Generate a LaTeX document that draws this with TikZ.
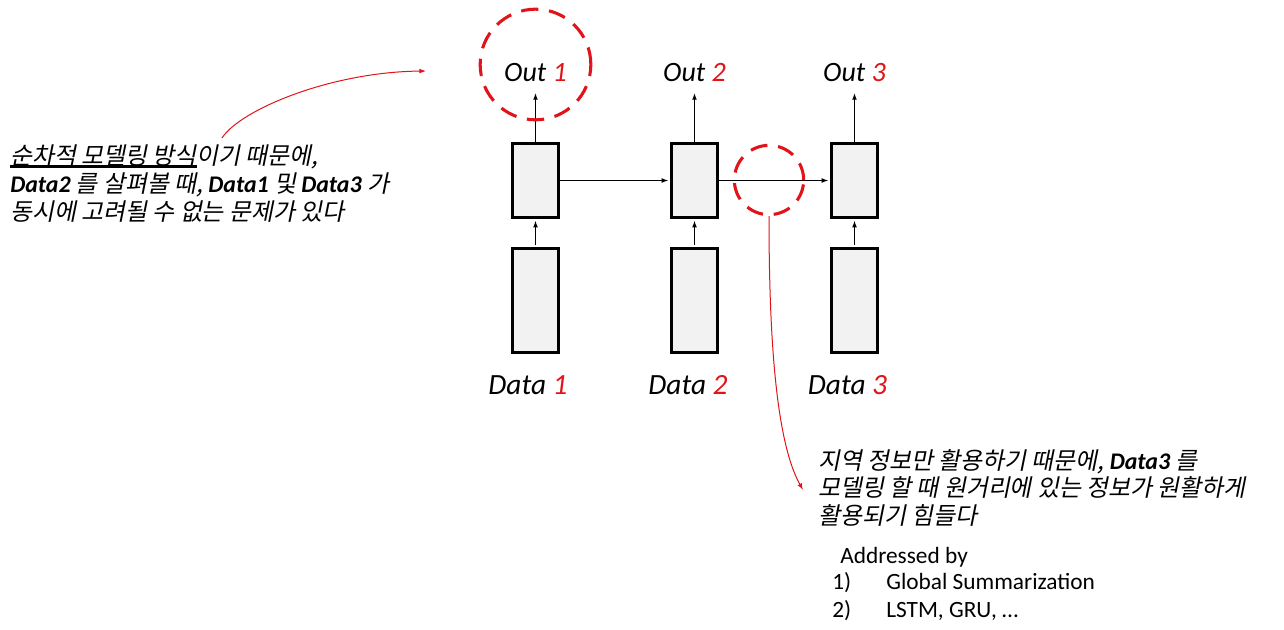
\documentclass[tikz,border=0pt]{standalone}
\usepackage{fontspec}
\setmainfont{Carlito}
\newfontfamily\krfont{Noto Sans CJK KR}[FakeSlant=0.2]
\usetikzlibrary{arrows.meta,shadows}
\definecolor{myred}{RGB}{225,20,25}
\definecolor{boxfill}{RGB}{242,242,242}
\newcommand\krul[1]{\setbox0\hbox{#1}\rlap{\color{black}\rule[-2.8pt]{\wd0}{1.7pt}}\box0}
\newcommand\dat[1]{{\rmfamily\bfseries\itshape #1}}
\newcommand\rn[1]{{\color{myred}#1}}
\begin{document}
\begin{tikzpicture}[x=0.75pt,y=-0.75pt,
  cell/.style={draw=black,line width=2.4pt,fill=boxfill,minimum width=34.5pt,inner sep=0pt,
    drop shadow={shadow xshift=1.2pt,shadow yshift=-1.2pt,fill=black,opacity=0.25}},
  topcell/.style={cell,minimum height=55.5pt},
  botcell/.style={cell,minimum height=78pt},
  lbl/.style={font=\fontsize{21}{25}\selectfont\itshape,anchor=base,inner xsep=0pt,inner ysep=7.5pt},
  dlbl/.style={font=\fontsize{22}{26}\selectfont\itshape,anchor=base,inner sep=0pt},
  conn/.style={line width=0.75pt,-{Latex[length=5pt,width=3.6pt]},shorten >=1.2pt},
  ring/.style={circle,draw=myred,line width=2.3pt,dash pattern=on 13pt off 8pt,inner sep=0pt},
  note/.style={draw=myred,line width=0.75pt,-{Latex[length=5pt,width=3.6pt]}},
  krtxt/.style={font=\krfont\fontsize{17.9}{21}\selectfont,anchor=base west,inner sep=0pt},
  entxt/.style={font=\fontsize{17.5}{21}\selectfont,anchor=base west,inner sep=0pt}]
\useasboundingbox (0,0) rectangle (1284,629);
% cells
\node[topcell] (h1) at (535.5,180.5) {};
\node[topcell] (h2) at (694.5,180.5) {};
\node[topcell] (h3) at (854.5,180.5) {};
\node[botcell] (x1) at (535.5,300.5) {};
\node[botcell] (x2) at (694.5,300.5) {};
\node[botcell] (x3) at (854.5,300.5) {};
% labels
\node[lbl] (o1) at (535.5,81) {Out \rn{1}};
\node[lbl] (o2) at (694.5,81) {Out \rn{2}};
\node[lbl] (o3) at (854.5,81) {Out \rn{3}};
\node[dlbl] (d1) at (528,394) {Data \rn{1}};
\node[dlbl] (d2) at (688,394) {Data \rn{2}};
\node[dlbl] (d3) at (847.5,394) {Data \rn{3}};
% connectors
\foreach \i in {1,2,3}{
  \draw[conn] (h\i.north) -- (o\i.south);
  \draw[conn,shorten <=1.2pt] (x\i.north) -- (h\i.south);
}
\draw[conn] (h1.east) -- (h2.west);
\draw[conn] (h2.east) -- (h3.west);
% red rings
\node[ring,minimum size=83pt] (c1) at (535.5,64.5) {};
\node[ring,minimum size=52pt] (c2) at (769,180) {};
% left note
\node[krtxt] (t1) at (10,164) {\krul{순차적 모델링 방식}이기 때문에,};
\node[krtxt] (t2) at (10,192) {\dat{Data2} 를 살펴볼 때, \dat{Data1} 및 \dat{Data3} 가};
\node[krtxt] (t3) at (10,220) {동시에 고려될 수 없는 문제가 있다};
\coordinate (s1) at (222,138);
\coordinate (e1) at (426,71);
\draw[note] (s1) .. controls (240,110) and (330,72) .. (e1);
% right note
\node[krtxt] (r1) at (818,469) {지역 정보만 활용하기 때문에, \dat{Data3} 를};
\node[krtxt] (r2) at (818,496) {모델링 할 때 원거리에 있는 정보가 원활하게};
\node[krtxt] (r3) at (818,524) {활용되기 힘들다};
\coordinate (e2) at (803,490);
\draw[note] (c2.south) .. controls (769,330) and (775,440) .. (e2);
\node[entxt] (a0) at (840,563) {Addressed by};
\node[entxt] (n1) at (832,589) {1)};
\node[entxt] (g1) at (886,589) {Global Summarization};
\node[entxt] (n2) at (832,617) {2)};
\node[entxt] (g2) at (886,617) {LSTM, GRU, \dots};
\end{tikzpicture}
\end{document}
